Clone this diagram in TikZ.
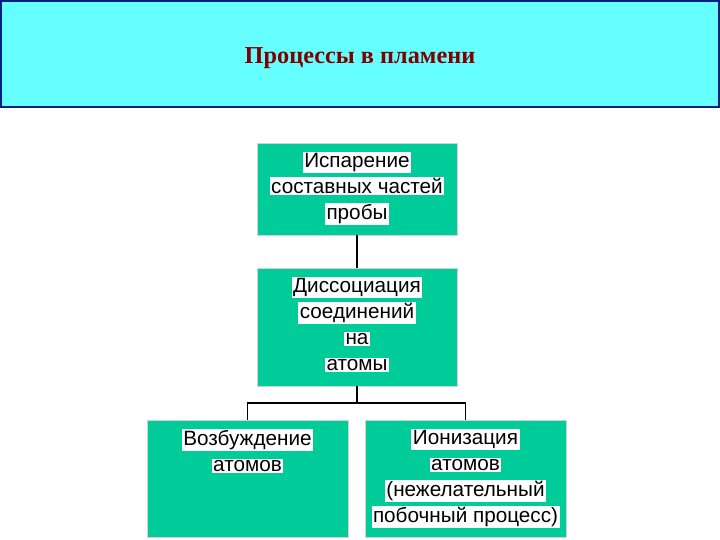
\documentclass[tikz,border=0pt]{standalone}
\usepackage{fontspec}
\setmainfont{Liberation Sans}
\newfontfamily\titlefont{Liberation Serif}
\usepackage{xcolor}
\usepackage{tikz}
\usetikzlibrary{positioning}
\definecolor{FlameTeal}{RGB}{0, 204, 153}
\definecolor{HeadCyan}{RGB}{102, 255, 255}
\definecolor{HeadNavy}{RGB}{0, 32, 128}
\definecolor{TitleRed}{RGB}{128, 0, 0}
\newcommand{\hlline}[1]{{\setlength{\fboxsep}{1.5pt}\colorbox{white}{#1}}}
\tikzset{
  stagebox/.style={fill=FlameTeal, draw=gray!35, line width=0.5pt, minimum width=200pt, inner sep=0pt},
  stagetext/.style={align=center, inner sep=0pt, font=\fontsize{20.7}{26}\selectfont},
  link/.style={line width=1.6pt, black}
}

\begin{document}
\begin{tikzpicture}[x=1pt, y=-1pt]
    \useasboundingbox (0,0) rectangle (720,540);
    % header band
    \node[
      fill=HeadCyan,
      draw=HeadNavy,
      line width=1.5pt,
      minimum width=718pt,
      minimum height=106pt,
      inner sep=0pt
    ] (head) at (360,54) {};
    \node[font=\titlefont\bfseries\fontsize{24.3}{28}\selectfont, text=TitleRed] (title) at (360,58) {Процессы в пламени};
    % stages
    \node[stagebox, minimum height=92pt] (b1) at (357,189) {};
    \node[stagebox, minimum height=118pt] (b2) at (357,327) {};
    \node[stagebox, minimum width=201pt, minimum height=117pt] (b3) at (247.5,478.5) {};
    \node[stagebox, minimum width=201pt, minimum height=117pt] (b4) at (465.5,478.5) {};
    \node[stagetext, below=9pt of b1.north] (t1) {\hlline{Испарение}\\ \hlline{составных частей}\\ \hlline{пробы}};
    \node[stagetext, below=9pt of b2.north] (t2) {\hlline{Диссоциация}\\ \hlline{соединений}\\ \hlline{на}\\ \hlline{атомы}};
    \node[stagetext, below=9pt of b3.north] (t3) {\hlline{Возбуждение}\\ \hlline{атомов}};
    \node[stagetext, below=9pt of b4.north] (t4) {\hlline{Ионизация}\\ \hlline{атомов}\\ \hlline{(нежелательный}\\ \hlline{побочный процесс)}};
    % connectors
    \draw[link] (b1.south) -- (b2.north);
    \draw[link] (b2.south) -- ++(0,17) coordinate (split);
    \draw[link] (split) -| (b3.north);
    \draw[link] (split) -| (b4.north);
\end{tikzpicture}
\end{document}
